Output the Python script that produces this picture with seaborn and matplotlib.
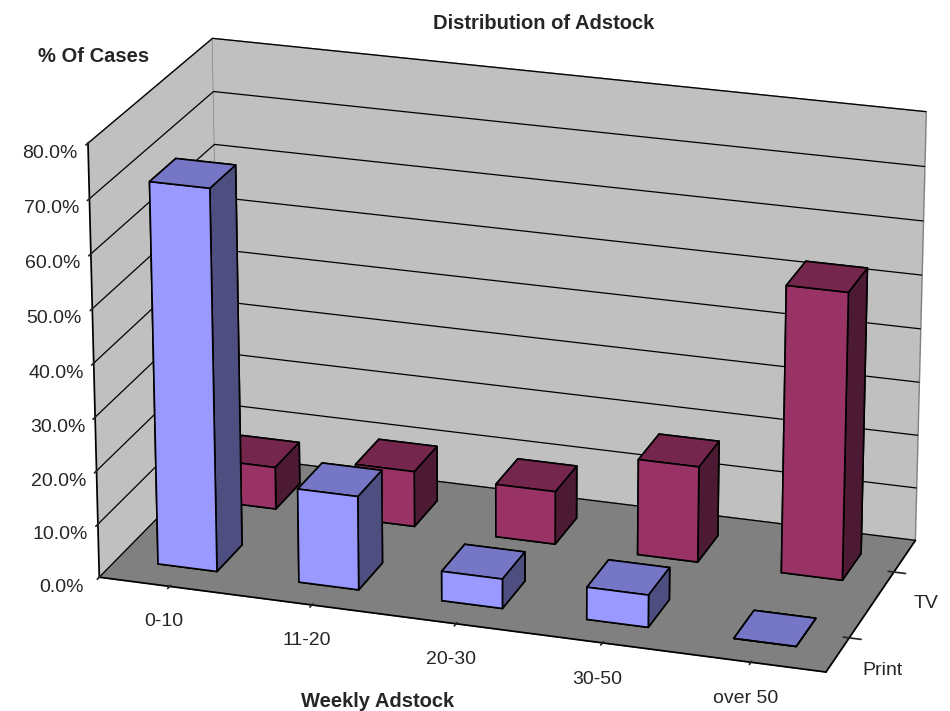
import matplotlib
matplotlib.use("Agg")
import numpy as np
import pandas as pd
import seaborn as sns
import matplotlib.pyplot as plt

# Share of cases (%) per weekly adstock band, by medium
categories = ["0-10", "11-20", "20-30", "30-50", "over 50"]
series = ["Print", "TV"]
print_pct = [71.0, 17.5, 5.5, 6.0, 0.0]
tv_pct = [8.0, 10.5, 10.0, 18.0, 53.5]
value_ticks = [0, 10, 20, 30, 40, 50, 60, 70, 80]

sns.set_theme(style="white")
plt.rcParams["font.family"] = ["Liberation Sans", "DejaVu Sans"]

df = pd.DataFrame({
    "band": categories * 2,
    "medium": ["Print"] * len(categories) + ["TV"] * len(categories),
    "pct": print_pct + tv_pct,
})
df["xi"] = df["band"].map({c: i for i, c in enumerate(categories)})
df["yi"] = df["medium"].map({s: i for i, s in enumerate(series)})

# face colours: front, top, right side
shades = {
    "Print": {"front": "#9999FF", "top": "#7676C6", "side": "#4E4E80"},
    "TV": {"front": "#993366", "top": "#74264C", "side": "#4D1A33"},
}

fig = plt.figure(figsize=(9.5, 7.11), dpi=100)
ax = fig.add_axes([0.027, 0.0, 1.0, 1.0], projection="3d")
ax.set_proj_type("persp", focal_length=1.6)
ax.view_init(elev=21, azim=-72)
ax.set_box_aspect((5.9, 2.7, 3.6), zoom=1.3)

bar_w, bar_d = 0.42, 0.42
face_colors = []
for _, r in df.iterrows():
    s = shades[r["medium"]]
    # bar3d face order: bottom, top, front, back, left, right
    face_colors += [s["top"], s["top"], s["front"], s["front"], s["side"], s["side"]]

bars = ax.bar3d(df["xi"] - bar_w / 2, df["yi"] - bar_d / 2, np.zeros(len(df)),
                bar_w, bar_d, df["pct"], color=face_colors, edgecolor="black",
                linewidth=1.2, shade=False)
bars.set_clip_on(False)

ax.set_xlim(-0.5, len(categories) - 0.5)
ax.set_ylim(-0.5, len(series) - 0.5)
ax.set_zlim(0, 80)

ax.set_xticks(range(len(categories)))
ax.set_xticklabels(categories, fontsize=14)
ax.set_yticks(range(len(series)))
ax.set_yticklabels(series, fontsize=14)
ax.set_zticks(value_ticks)
ax.set_zticklabels([f"{v:.1f}%" for v in value_ticks], fontsize=14)
ax.zaxis.set_ticks_position("lower")
ax.tick_params(axis="x", pad=5)
ax.tick_params(axis="y", pad=4)
ax.tick_params(axis="z", pad=4)

wall = (0.753, 0.753, 0.753, 1.0)
floor = (0.502, 0.502, 0.502, 1.0)
ax.xaxis.set_pane_color(wall)
ax.yaxis.set_pane_color(wall)
ax.zaxis.set_pane_color(floor)
for a in (ax.xaxis, ax.yaxis, ax.zaxis):
    a.pane.set_edgecolor("#808080")
    a.line.set_color("black")

ax.grid(True)
ax.xaxis._axinfo["grid"]["color"] = (1, 1, 1, 0)
ax.yaxis._axinfo["grid"]["color"] = (1, 1, 1, 0)
ax.zaxis._axinfo["grid"]["color"] = "black"
ax.zaxis._axinfo["grid"]["linewidth"] = 0.9

fig.text(0.5726, 0.959, "Distribution of Adstock", ha="center", va="baseline",
         fontsize=14.5, fontweight="bold")
fig.text(0.098, 0.913, "% Of Cases", ha="center", va="baseline",
         fontsize=14.5, fontweight="bold")
fig.text(0.397, 0.006, "Weekly Adstock", ha="center", va="baseline",
         fontsize=14.5, fontweight="bold")

fig.savefig("out.png", dpi=100, facecolor="white")
